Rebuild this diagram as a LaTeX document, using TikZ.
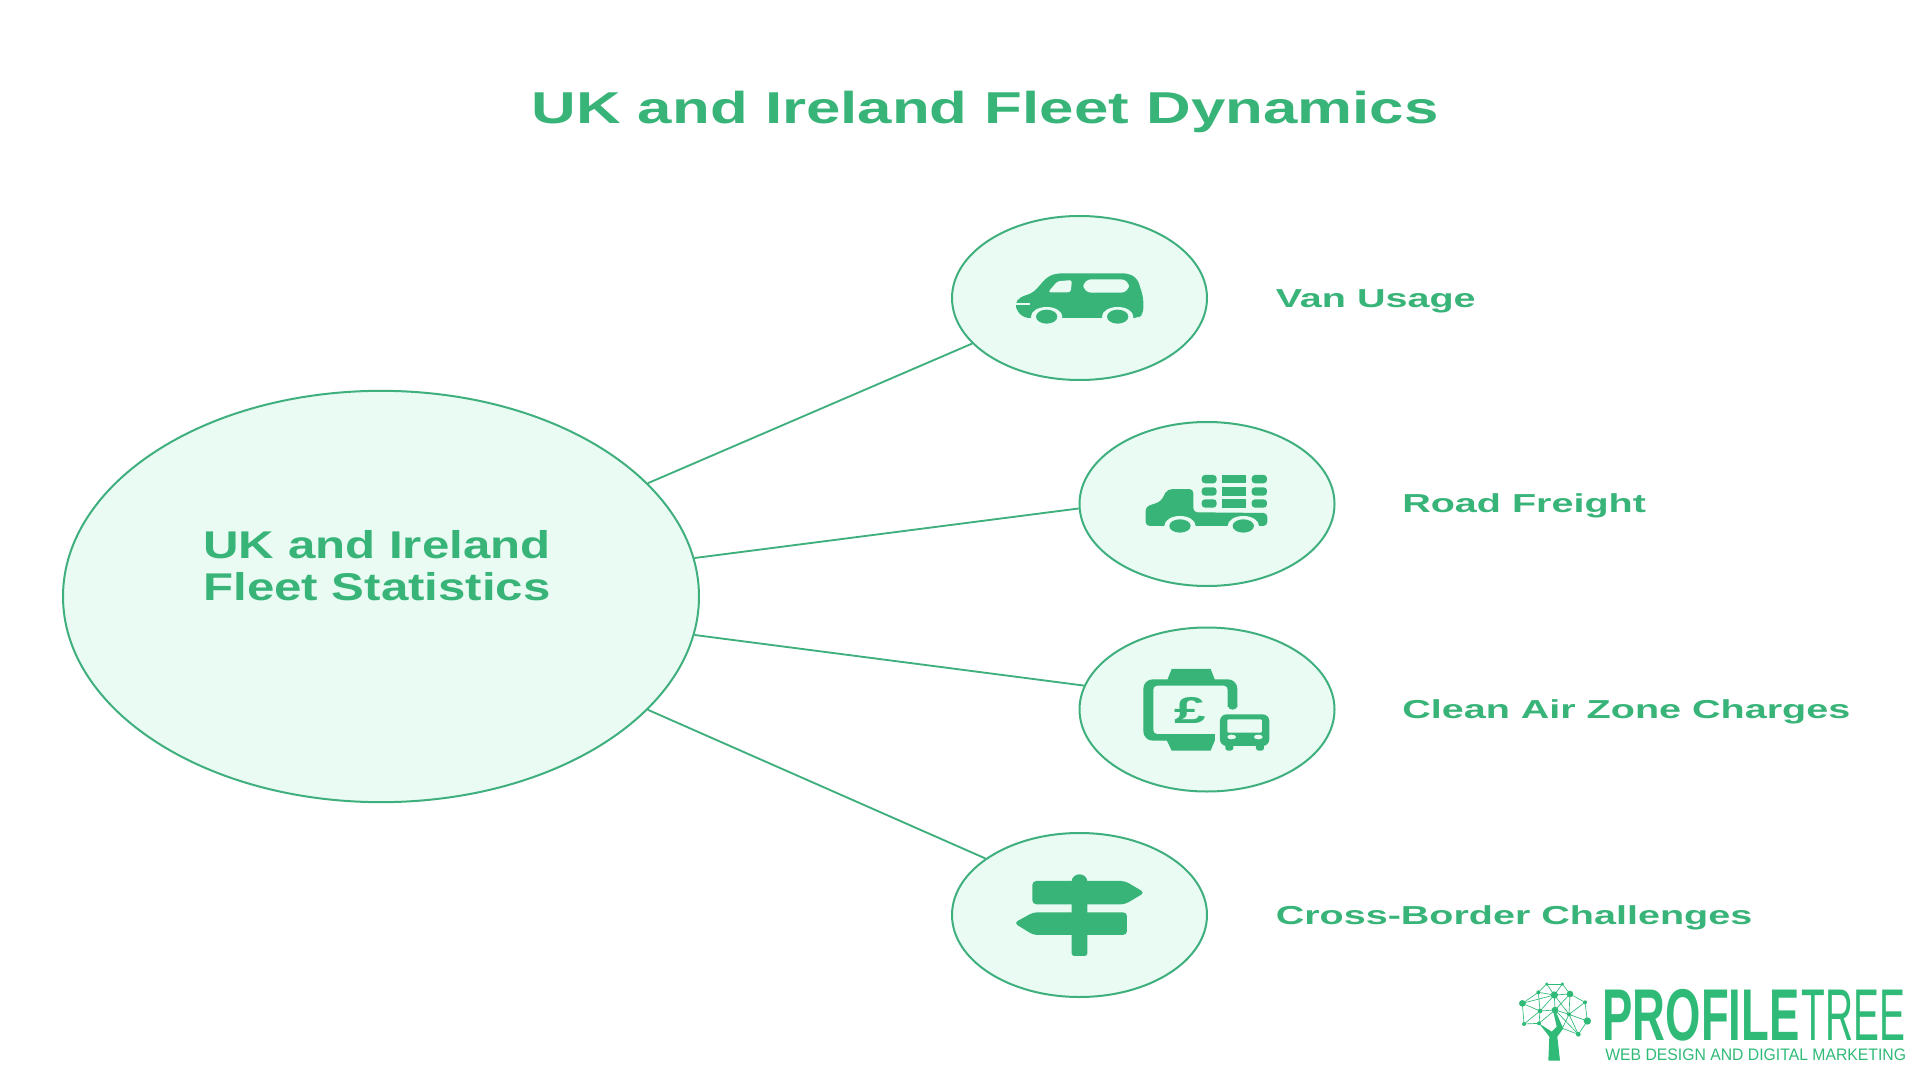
\documentclass[tikz,border=0pt]{standalone}
\usepackage{fontspec}
\usetikzlibrary{shapes.geometric}
\setmainfont{Liberation Sans}
\newfontfamily\titlefont[FakeStretch=1.384]{Liberation Sans}
\newfontfamily\hubfont[FakeStretch=1.272]{Liberation Sans}
\newfontfamily\labelfont[FakeStretch=1.52]{Liberation Sans}
\newfontfamily\logofont[FakeStretch=0.62]{Liberation Sans}
\newfontfamily\treefont[FakeStretch=0.53]{Liberation Sans}
\newfontfamily\tagfont[FakeStretch=0.945]{Liberation Sans}
\definecolor{fleetgreen}{HTML}{38B479}
\definecolor{fleetline}{HTML}{3FAF7E}
\definecolor{fleetpale}{HTML}{E9FBF3}
\definecolor{logogreen}{HTML}{30BA78}
\tikzset{
  hubnode/.style={ellipse,draw=fleetline,fill=fleetpale,line width=1.5pt,inner sep=0pt,minimum width=477pt,minimum height=308.5pt},
  itemnode/.style={ellipse,draw=fleetline,fill=fleetpale,line width=1.5pt,inner sep=0pt,minimum width=191.25pt,minimum height=123pt},
  hubtext/.style={anchor=base,inner sep=0pt,text=fleetgreen,font=\hubfont\bfseries\fontsize{29}{31}\selectfont},
  itemlabel/.style={anchor=base west,inner sep=0pt,text=fleetgreen,font=\labelfont\bfseries\fontsize{19.5}{21}\selectfont},
  spoke/.style={draw=fleetline,line width=1.4pt},
  icon/.style={fill=fleetgreen,draw=none},
  iconcut/.style={fill=fleetpale,draw=none},
}
\begin{document}
\begin{tikzpicture}[x=0.75pt,y=0.75pt,yscale=-1,xscale=1]
  \useasboundingbox (0,0) rectangle (1920,1080);
  \node[anchor=base,inner sep=0pt,text=fleetgreen,font=\titlefont\bfseries\fontsize{33.5}{36}\selectfont] (heading) at (985,124) {UK and Ireland Fleet Dynamics};
  % circles
  \node[hubnode] (hub) at (381,596.5) {};
  \node[itemnode] (van) at (1079.5,298) {};
  \node[itemnode] (road) at (1207,504) {};
  \node[itemnode] (clean) at (1207,709.5) {};
  \node[itemnode] (cross) at (1079.5,915) {};
  % hub text
  \node[hubtext] (hubtop) at (377,558.5) {UK and Ireland};
  \node[hubtext] (hubbottom) at (377,600) {Fleet Statistics};
  % labels
  \node[itemlabel] (vantext) at (1275.5,308) {Van Usage};
  \node[itemlabel] (roadtext) at (1402,512.5) {Road Freight};
  \node[itemlabel] (cleantext) at (1402,718) {Clean Air Zone Charges};
  \node[itemlabel] (crosstext) at (1275.5,924) {Cross-Border Challenges};
  % spokes
  \draw[spoke] (hub.23) -- (van.203.4);
  \draw[spoke] (hub.7.2) -- (road.182.7);
  \draw[spoke] (hub.-7.1) -- (clean.169.2);
  \draw[spoke] (hub.-23.1) -- (cross.149.5);
  % van icon
  \begin{scope}[shift={(950,210)},scale=0.3333]
    \fill[icon,rounded corners=4pt] (198,283) -- (204,264) -- (250,248) -- (292,200) -- (320,190) -- (535,190) -- (562,205) -- (580,262) -- (580,312) -- (565,324) -- (222,324) -- (198,300) -- cycle;
    \fill[iconcut] (290,320) ellipse (47 and 29);
    \fill[iconcut] (503,320) ellipse (47 and 29);
    \fill[icon] (290,320) ellipse (32 and 21);
    \fill[icon] (503,320) ellipse (32 and 21);
    \fill[iconcut,rounded corners=2pt] (294,247) -- (322,214) -- (366,210) -- (362,247) -- cycle;
    \fill[iconcut,rounded corners=6pt] (400,208) rectangle (537,248);
    \fill[iconcut] (196,280) rectangle (240,286);
  \end{scope}
  % truck icon
  \begin{scope}[shift={(950,210)},scale=0.3333]
    \fill[icon,rounded corners=3pt] (587,890) -- (632,875) -- (652,838) -- (730,837) -- (730,907) -- (952,909) -- (952,948) -- (587,948) -- cycle;
    \fill[iconcut] (690,948) ellipse (47 and 30);
    \fill[iconcut] (880,948) ellipse (47 and 30);
    \fill[icon] (690,948) ellipse (32 and 20);
    \fill[icon] (880,948) ellipse (32 and 20);
    \foreach \rowy in {795,832,868} {
      \fill[icon,rounded corners=2.5pt] (755,\rowy) rectangle (800,\rowy+25);
      \fill[icon] (817,\rowy) rectangle (888,\rowy+25);
      \fill[icon,rounded corners=2.5pt] (905,\rowy) rectangle (951,\rowy+25);
    }
  \end{scope}
  % charge icon
  \begin{scope}[shift={(950,620)},scale=0.3333]
    \fill[icon,rounded corners=7pt] (580,178) rectangle (862,362);
    \fill[iconcut,rounded corners=3pt] (610,197) rectangle (833,342);
    \fill[iconcut] (795,262) rectangle (975,400);
    \fill[icon] (848,258) ellipse (14 and 11);
    \fill[icon] (652,180) -- (665,147) -- (782,147) -- (795,180) -- cycle;
    \fill[icon] (650,360) -- (665,392) -- (782,392) -- (795,360) -- cycle;
    \node[inner sep=0pt,text=fleetgreen,font=\labelfont\bfseries\fontsize{28}{28}\selectfont] (pound) at (720,271) {£};
    \fill[icon,rounded corners=5pt] (810,283) rectangle (958,378);
    \fill[icon,rounded corners=2pt] (826,370) rectangle (850,392);
    \fill[icon,rounded corners=2pt] (918,370) rectangle (942,392);
    \fill[iconcut,rounded corners=1pt] (832,298) rectangle (936,338);
    \fill[iconcut] (845,351) ellipse (13 and 7);
    \fill[iconcut] (925,351) ellipse (13 and 7);
  \end{scope}
  % sign icon
  \begin{scope}[shift={(950,620)},scale=0.3333]
    \fill[icon,rounded corners=2pt] (365,785) -- (365,1008) -- (412,1008) -- (412,785) -- cycle;
    \fill[icon] (388.5,785) ellipse (23.5 and 22);
    \fill[icon,rounded corners=3pt] (247,783) -- (525,783) -- (584,818) -- (525,853) -- (247,853) -- cycle;
    \fill[icon,rounded corners=3pt] (531,877) -- (250,877) -- (192,909) -- (250,945) -- (531,945) -- cycle;
  \end{scope}
  % logo
  \begin{scope}[shift={(1500,970)},scale=0.3333]
    \foreach \nam/\posx/\posy in {a/67/100,b/140/42,c/187/42,d/115/67,e/163/75,f/210/72,g/255/97,h/120/123,i/165/120,j/207/133,k/262/153,l/72/162,m/117/160,n/235/193,o/187/175}
      \coordinate (\nam) at (\posx,\posy);
    \foreach \from/\to in {a/d,a/h,a/l,a/e,b/c,b/d,b/e,c/e,c/f,d/e,d/h,e/f,e/h,e/i,e/j,f/g,f/j,f/i,g/j,g/k,h/i,h/l,h/m,i/j,i/m,i/o,i/n,j/k,j/n,k/n,l/m,o/n,j/o}
      \draw[draw=logogreen,line width=0.5pt] (\from) -- (\to);
    \foreach \nam/\rad in {a/10,b/5,c/5,d/6,e/11,f/10,g/6,h/7,i/10,j/6,k/11,l/6,m/6,n/7}
      \fill[logogreen] (\nam) circle (\rad);
    \fill[logogreen] (145,272) -- (180,272) -- (172,200) -- (190,175) -- (165,125) -- (160,125) -- (170,170) -- (155,185) -- (117,160) -- (148,200) -- cycle;
    \node[anchor=base west,inner sep=0pt,text=logogreen,font=\logofont\bfseries\fontsize{55}{55}\selectfont] (logomain) at (307,210) {PROFILE};
    \node[anchor=base west,inner sep=0pt,text=logogreen,font=\treefont\fontsize{55}{55}\selectfont] (logotree) at (905,210) {TREE};
    \node[anchor=base west,inner sep=0pt,text=logogreen,font=\tagfont\fontsize{12.5}{13}\selectfont] (logotag) at (315,272) {WEB DESIGN AND DIGITAL MARKETING};
  \end{scope}
\end{tikzpicture}
\end{document}
